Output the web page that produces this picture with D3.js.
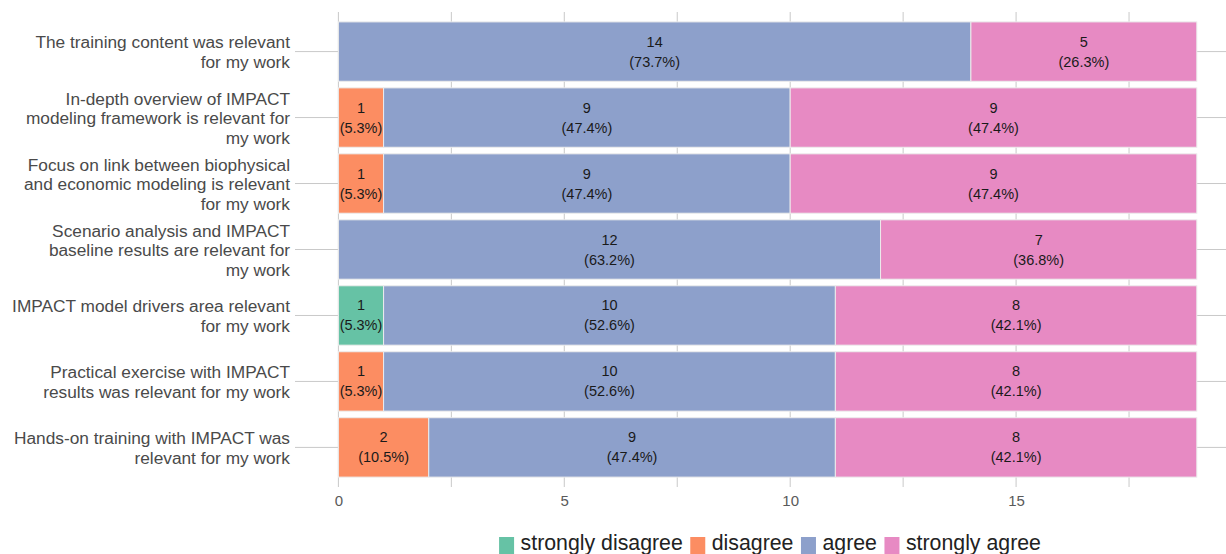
<!DOCTYPE html>
<html>
<head>
<meta charset="utf-8">
<script src="https://cdn.jsdelivr.net/npm/d3@7"></script>
<style>
  html, body { margin: 0; padding: 0; background: #fff; }
  svg { display: block; font-family: "Liberation Sans", Arial, sans-serif; }
</style>
</head>
<body>
<svg id="chart" width="1226" height="554"></svg>
<script>
// ---- data ----
const categories = [
  "The training content was relevant for my work",
  "In-depth overview of IMPACT modeling framework is relevant for my work",
  "Focus on link between biophysical and economic modeling is relevant for my work",
  "Scenario analysis and IMPACT baseline results are relevant for my work",
  "IMPACT model drivers area relevant for my work",
  "Practical exercise with IMPACT results was relevant for my work",
  "Hands-on training with IMPACT was relevant for my work"
];
const categoryLines = [
  ["The training content was relevant", "for my work"],
  ["In-depth overview of IMPACT", "modeling framework is relevant for", "my work"],
  ["Focus on link between biophysical", "and economic modeling is relevant", "for my work"],
  ["Scenario analysis and IMPACT", "baseline results are relevant for", "my work"],
  ["IMPACT model drivers area relevant", "for my work"],
  ["Practical exercise with IMPACT", "results was relevant for my work"],
  ["Hands-on training with IMPACT was", "relevant for my work"]
];
const seriesNames = ["strongly disagree", "disagree", "agree", "strongly agree"];
const stronglyDisagree = [0, 0, 0, 0, 1, 0, 0];
const disagree         = [0, 1, 1, 0, 0, 1, 2];
const agree            = [14, 9, 9, 12, 10, 10, 9];
const stronglyAgree    = [5, 9, 9, 7, 8, 8, 8];
const xTickValues = [0, 5, 10, 15];
const xGridValues = [0, 2.5, 5, 7.5, 10, 12.5, 15, 17.5];
const colors = ["#66c2a5", "#fc8d62", "#8da0cb", "#e78ac3"];

// ---- build table ----
const seriesValues = [stronglyDisagree, disagree, agree, stronglyAgree];
const rows = categories.map((c, i) => {
  const r = { category: c };
  seriesNames.forEach((s, j) => r[s] = seriesValues[j][i]);
  r.total = d3.sum(seriesNames, s => r[s]);
  return r;
});
const stacked = d3.stack().keys(seriesNames)(rows);

// ---- layout ----
const W = 1226, H = 554;
const plotTop = 12, plotBottom = 487;
const x = d3.scaleLinear().domain([0, 19]).range([338.4, 1196.8]);
const y = d3.scaleBand().domain(categories).range([plotTop, plotBottom])
  .paddingInner(0.1).paddingOuter(0.15);
const color = d3.scaleOrdinal().domain(seriesNames).range(colors);

const svg = d3.select("#chart");
const gridColor = "#c9c9c9";

// vertical grid lines
svg.append("g").selectAll("line").data(xGridValues).join("line")
  .attr("x1", d => x(d)).attr("x2", d => x(d))
  .attr("y1", plotTop).attr("y2", plotBottom)
  .attr("stroke", gridColor).attr("stroke-width", 1);

// horizontal lines at category centers
svg.append("g").selectAll("line").data(categories).join("line")
  .attr("x1", 295).attr("x2", W)
  .attr("y1", d => y(d) + y.bandwidth() / 2).attr("y2", d => y(d) + y.bandwidth() / 2)
  .attr("stroke", gridColor).attr("stroke-width", 1);

// bars
const layers = svg.append("g").selectAll("g").data(stacked).join("g")
  .attr("fill", d => color(d.key));
layers.selectAll("rect").data(d => d.filter(s => s[1] - s[0] > 0)).join("rect")
  .attr("x", d => x(d[0]))
  .attr("y", d => y(d.data.category))
  .attr("width", d => x(d[1]) - x(d[0]))
  .attr("height", y.bandwidth())
  .attr("stroke", "#ececec").attr("stroke-width", 1);

// bar labels
const fmtPct = d3.format(".1f");
layers.each(function(layer) {
  d3.select(this).selectAll("text").data(layer.filter(s => s[1] - s[0] > 0)).join("text")
    .attr("text-anchor", "middle")
    .attr("font-size", "14.5px")
    .attr("fill", "#1a1a1a")
    .each(function(d) {
      const v = d[1] - d[0];
      const cx = (x(d[0]) + x(d[1])) / 2;
      const cy = y(d.data.category) + y.bandwidth() / 2;
      const t = d3.select(this);
      t.append("tspan").attr("x", cx).attr("y", cy - 5).text(v);
      t.append("tspan").attr("x", cx).attr("y", cy + 15)
        .text("(" + fmtPct(v / d.data.total * 100) + "%)");
    });
});

// category labels
const yLab = svg.append("g");
categories.forEach((c, i) => {
  const lines = categoryLines[i];
  const cy = y(c) + y.bandwidth() / 2;
  const t = yLab.append("text").attr("text-anchor", "end")
    .attr("font-size", "17.3px").attr("fill", "#4a4a4a");
  lines.forEach((ln, k) => {
    t.append("tspan").attr("x", 290)
      .attr("y", cy + (k - (lines.length - 1) / 2) * 19.5 + 6.5)
      .text(ln);
  });
});

// x axis tick labels
const xAxis = svg.append("g").attr("transform", `translate(0,${plotBottom})`)
  .call(d3.axisBottom(x).tickValues(xTickValues).tickSize(0).tickPadding(0));
xAxis.select(".domain").remove();
xAxis.selectAll("text").attr("y", 19).attr("dy", 0)
  .attr("font-size", "15px").attr("fill", "#5a5a5a")
  .attr("font-family", "Liberation Sans, Arial, sans-serif");

// legend
const legend = svg.append("g");
const legendItems = legend.selectAll("g").data(seriesNames).join("g");
legendItems.append("rect").attr("width", 15).attr("height", 20)
  .attr("y", 537).attr("fill", d => color(d));
legendItems.append("text").attr("x", 21.5).attr("y", 550)
  .attr("font-size", "21.3px").attr("fill", "#222").text(d => d);
let cursor = 0;
const widths = [];
legendItems.each(function() {
  const w = 21.5 + d3.select(this).select("text").node().getComputedTextLength();
  widths.push(w);
});
const gap = 7.5;
const totalW = d3.sum(widths) + gap * (widths.length - 1);
cursor = 770 - totalW / 2;
legendItems.each(function(d, i) {
  d3.select(this).attr("transform", `translate(${cursor},0)`);
  cursor += widths[i] + gap;
});
</script>
</body>
</html>
